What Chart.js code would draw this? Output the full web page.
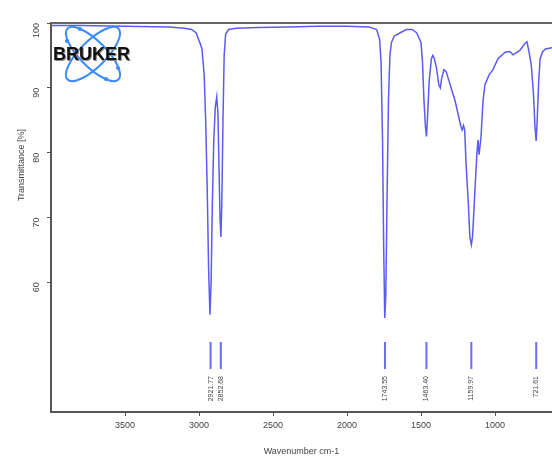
<!DOCTYPE html>
<html>
<head>
<meta charset="utf-8">
<script src="https://cdn.jsdelivr.net/npm/chart.js@4.4.0/dist/chart.umd.min.js"></script>
<style>
  html, body { margin: 0; padding: 0; background: #fff; overflow: hidden; }
  #wrap { width: 552px; height: 461px; }
</style>
</head>
<body>
<div id="wrap"><canvas id="irChart"></canvas></div>
<script>
// Spectrum (wavenumber cm-1 / transmittance %)
const wavenumbers = [4000, 3800, 3500, 3200, 3100, 3050, 3020, 3000, 2993, 2980, 2965, 2955, 2945, 2935, 2926, 2918, 2910, 2900, 2890, 2880, 2872, 2865, 2858, 2852, 2846, 2838, 2830, 2820, 2800, 2750, 2600, 2400, 2200, 2000, 1850, 1800, 1780, 1770, 1760, 1752, 1745, 1738, 1730, 1720, 1710, 1700, 1680, 1640, 1600, 1560, 1530, 1500, 1490, 1480, 1470, 1463, 1455, 1445, 1430, 1420, 1410, 1395, 1380, 1370, 1360, 1345, 1330, 1310, 1290, 1270, 1250, 1230, 1222, 1213, 1205, 1195, 1180, 1170, 1160, 1152, 1145, 1135, 1122, 1115, 1108, 1095, 1081, 1068, 1040, 1014, 980, 932, 900, 878, 850, 831, 800, 784, 770, 755, 740, 730, 722, 715, 705, 695, 680, 660, 615];
const transmittance = [99.6, 99.6, 99.5, 99.4, 99.2, 99.0, 98.5, 97.3, 96.9, 96.0, 92, 85, 75, 62, 55, 60, 72, 82, 87, 88.6, 86, 78, 70, 67, 72, 85, 95, 98.3, 99.0, 99.2, 99.3, 99.4, 99.5, 99.5, 99.4, 99.0, 97.5, 94, 82, 65, 54.5, 58, 72, 88, 95, 97, 98.0, 98.5, 99, 99, 98.5, 97, 94, 88, 84, 82.5, 86, 91, 94.5, 95, 94.5, 93, 90.5, 90, 91.5, 92.8, 92.5, 91, 89.5, 88, 86, 84, 83.5, 84.2, 83.5, 78, 72, 67, 65.8, 67, 70, 74.5, 80, 82, 79.7, 82.3, 88, 90.5, 92, 92.8, 94.5, 95.5, 95.6, 95.1, 95.5, 95.8, 96.8, 97.1, 95.5, 93.5, 89, 84, 81.8, 85, 91, 94.5, 95.5, 96.0, 96.2];

const xTicks = [3500, 3000, 2500, 2000, 1500, 1000];
const yTicks = [60, 70, 80, 90, 100];
const peakLabels = [2921.77, 2852.68, 1743.55, 1463.40, 1159.97, 721.61];

const axisColor = "#555";
const tickFont = { family: "Liberation Sans, Arial, sans-serif", size: 9 };

// Top border, y title, peak markers and the logo
const extras = {
  id: "extras",
  afterDraw(chart) {
    const { ctx, chartArea, scales } = chart;
    ctx.save();
    // top border
    ctx.strokeStyle = "#666";
    ctx.lineWidth = 2;
    ctx.beginPath();
    ctx.moveTo(chartArea.left, chartArea.top);
    ctx.lineTo(chartArea.right, chartArea.top);
    ctx.stroke();

    // y title
    ctx.fillStyle = "#444";
    ctx.font = "9px Liberation Sans, Arial, sans-serif";
    ctx.textAlign = "center";
    ctx.textBaseline = "middle";
    ctx.translate(22, 165);
    ctx.rotate(-Math.PI / 2);
    ctx.fillText("Transmittance [%]", 0, 0);
    ctx.restore();

    // peak markers
    ctx.save();
    peakLabels.forEach(p => {
      const x = scales.x.getPixelForValue(p);
      ctx.strokeStyle = "#6a6aff";
      ctx.lineWidth = 2;
      ctx.beginPath();
      ctx.moveTo(x, 342);
      ctx.lineTo(x, 369);
      ctx.stroke();
      ctx.save();
      ctx.translate(x, 376);
      ctx.rotate(-Math.PI / 2);
      ctx.fillStyle = "#444";
      ctx.font = "7px Liberation Sans, Arial, sans-serif";
      ctx.textAlign = "right";
      ctx.textBaseline = "middle";
      ctx.fillText(p.toFixed(2), 0, 0);
      ctx.restore();
    });
    ctx.restore();

    // logo
    ctx.save();
    ctx.strokeStyle = "#3b8cf5";
    ctx.fillStyle = "#3b8cf5";
    ctx.lineWidth = 2;
    [Math.PI / 4, -Math.PI / 4].forEach(a => {
      ctx.beginPath();
      ctx.ellipse(93, 54, 36, 13, a, 0, Math.PI * 2);
      ctx.stroke();
    });
    [[80, 29], [106, 79], [67, 41], [118, 68]].forEach(d => {
      ctx.beginPath();
      ctx.arc(d[0], d[1], 2, 0, Math.PI * 2);
      ctx.fill();
    });
    ctx.font = "bold 18px Liberation Sans, Arial, sans-serif";
    ctx.textAlign = "left";
    ctx.textBaseline = "middle";
    ctx.fillStyle = "#888";
    ctx.fillText("BRUKER", 54, 56);
    ctx.fillStyle = "#111";
    ctx.fillText("BRUKER", 53, 55);
    ctx.restore();
  }
};

const ctx = document.getElementById("irChart").getContext("2d");
new Chart(ctx, {
  type: "line",
  data: {
    datasets: [{
      data: wavenumbers.map((w, i) => ({ x: w, y: transmittance[i] })),
      borderColor: "#5b5bf5",
      borderWidth: 1.5,
      pointRadius: 0,
      tension: 0,
      fill: false
    }]
  },
  options: {
    responsive: true,
    maintainAspectRatio: false,
    animation: false,
    layout: { padding: { top: 23, right: 0, left: 0, bottom: 0 } },
    plugins: { legend: { display: false }, tooltip: { enabled: false } },
    scales: {
      x: {
        type: "linear",
        reverse: true,
        min: 615,
        max: 4000,
        afterBuildTicks: s => { s.ticks = xTicks.map(v => ({ value: v })); },
        afterFit: s => { s.height = 49; },
        grid: { drawOnChartArea: false, drawTicks: true, tickLength: 4, color: axisColor, lineWidth: 1 },
        border: { display: true, color: axisColor, width: 2 },
        ticks: { color: "#444", font: tickFont, padding: 4, maxRotation: 0, callback: v => String(v) },
        title: { display: true, text: "Wavenumber cm-1", color: "#444", font: tickFont, padding: { top: 3 } }
      },
      y: {
        min: 40,
        max: 100,
        afterBuildTicks: s => { s.ticks = yTicks.map(v => ({ value: v })); },
        afterFit: s => { s.width = 51; },
        grid: { drawOnChartArea: false, drawTicks: true, tickLength: 4, color: axisColor, lineWidth: 1 },
        border: { display: true, color: axisColor, width: 2 },
        ticks: { color: "#444", font: tickFont, padding: 10, minRotation: 90, maxRotation: 90 }
      }
    }
  },
  plugins: [extras]
});
</script>
</body>
</html>
